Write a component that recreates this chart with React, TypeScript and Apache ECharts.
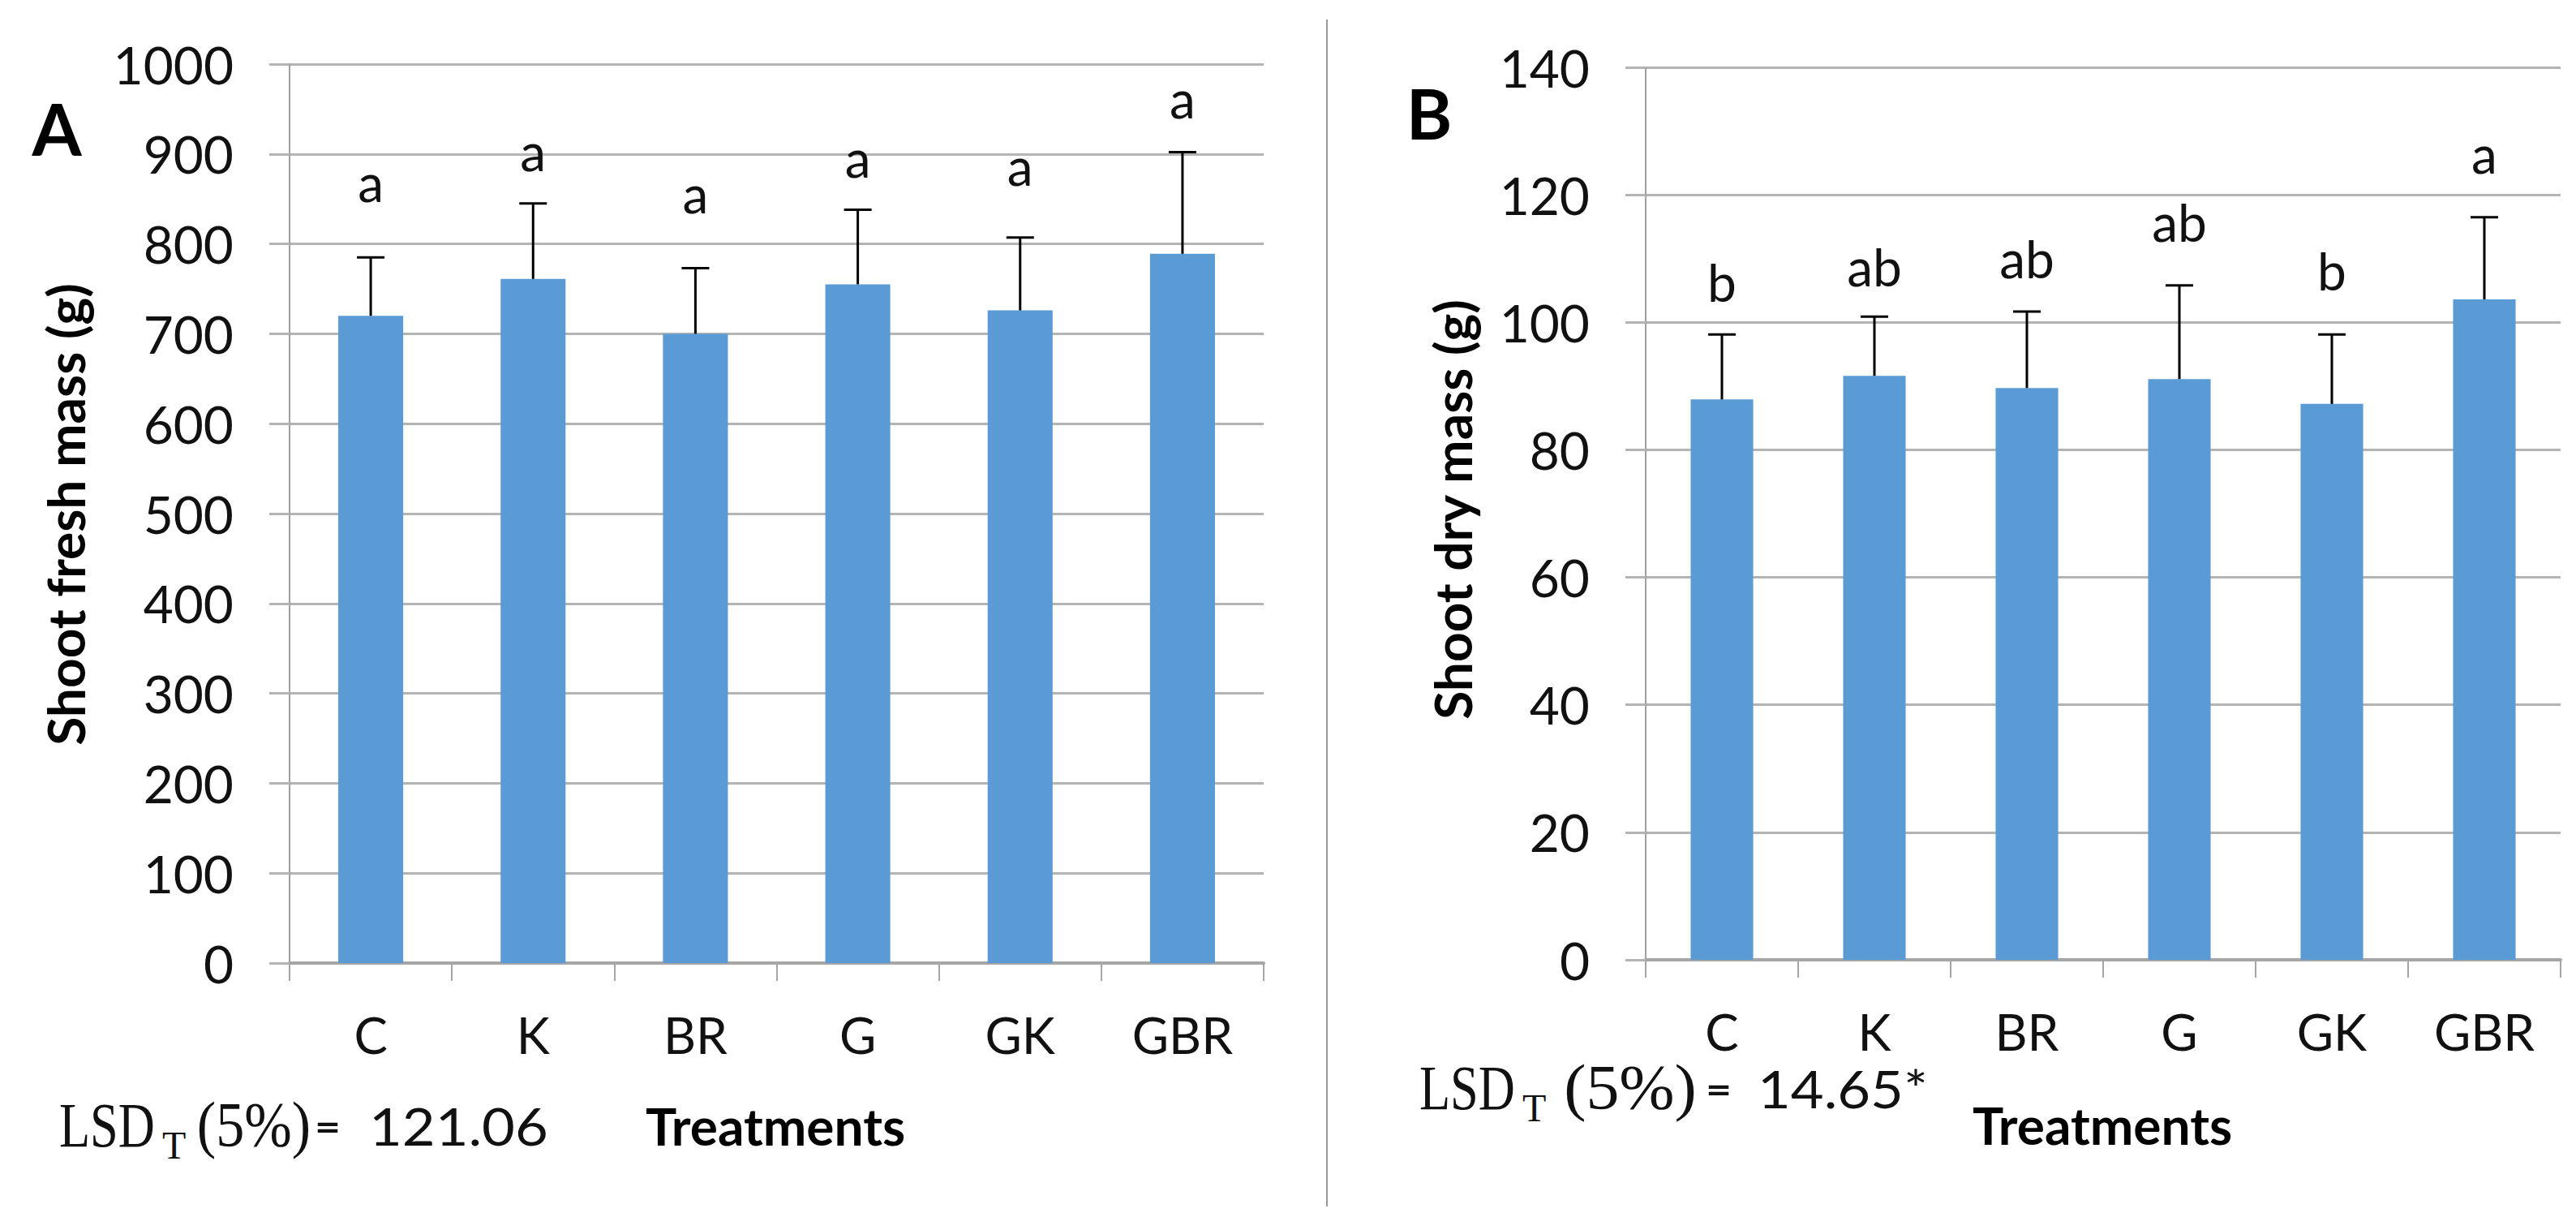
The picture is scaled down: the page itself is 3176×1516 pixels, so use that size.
import React, { useEffect, useRef } from "react";
import * as echarts from "echarts";

// ---------- data ----------
const categories = ["C", "K", "BR", "G", "GK", "GBR"];

const freshMean = [720, 761, 700, 755, 726, 789];
const freshErr = [65, 84, 73, 83, 81, 113];
const freshLetters = ["a", "a", "a", "a", "a", "a"];
const freshLetterPos = [869, 903, 856, 896, 887, 962];
const freshAxis = { min: 0, max: 1000, interval: 100 };

const dryMean = [87.9, 91.6, 89.7, 91.1, 87.2, 103.6];
const dryErr = [10.2, 9.3, 12.0, 14.7, 10.9, 12.9];
const dryLetters = ["b", "ab", "ab", "ab", "b", "a"];
const dryLetterPos = [106.3, 108.8, 110.0, 115.7, 108.1, 126.5];
const dryAxis = { min: 0, max: 140, interval: 20 };

const freshTitle = "Shoot fresh mass (g)";
const dryTitle = "Shoot dry mass (g)";
const xTitle = "Treatments";
const freshLsd = "121.06";
const dryLsd = "14.65*";

// ---------- style ----------
const SANS = "Lato";
const SERIF = '"Liberation Serif", serif';
const TEXT = "#111";
const BAR = "#5B9BD5";
const GRID = "#b4b4b4";

function yAxisCfg(gridIndex: number, a: { min: number; max: number; interval: number }) {
  return {
    type: "value",
    gridIndex,
    min: a.min,
    max: a.max,
    interval: a.interval,
    axisLine: { show: true, lineStyle: { color: "#a0a0a0", width: 2 } },
    axisTick: { show: true, length: 25, lineStyle: { color: GRID, width: 3 } },
    splitLine: { show: true, lineStyle: { color: GRID, width: 3 } },
    axisLabel: {
      margin: 69,
      fontFamily: SANS,
      fontSize: 64,
      color: TEXT,
      formatter: (v: number) => String(v),
    },
  };
}

function xAxisCfg(gridIndex: number) {
  return {
    type: "category",
    gridIndex,
    data: categories,
    boundaryGap: true,
    axisLine: { show: true, lineStyle: { color: "#a6a6a6", width: 4 } },
    axisTick: { show: true, length: 22, alignWithLabel: false, lineStyle: { color: "#a6a6a6", width: 2 } },
    axisLabel: { margin: 57, fontFamily: SANS, fontSize: 62, color: TEXT },
    splitLine: { show: false },
  };
}

function errSeries(idx: number, mean: number[], err: number[]) {
  return {
    type: "custom",
    xAxisIndex: idx,
    yAxisIndex: idx,
    z: 5,
    clip: false,
    data: mean.map((m, i) => [i, m, m + err[i]]),
    encode: { x: 0, y: [1, 2] },
    renderItem: (_p: any, api: any) => {
      const lo = api.coord([api.value(0), api.value(1)]);
      const hi = api.coord([api.value(0), api.value(2)]);
      const half = 17;
      return {
        type: "group",
        children: [
          { type: "line", shape: { x1: lo[0], y1: lo[1], x2: hi[0], y2: hi[1] }, style: { stroke: "#000", lineWidth: 3 } },
          { type: "line", shape: { x1: hi[0] - half, y1: hi[1], x2: hi[0] + half, y2: hi[1] }, style: { stroke: "#000", lineWidth: 3 } },
        ],
      };
    },
  };
}

function letterSeries(idx: number, pos: number[], letters: string[]) {
  return {
    type: "custom",
    xAxisIndex: idx,
    yAxisIndex: idx,
    z: 6,
    clip: false,
    data: pos.map((p, i) => [i, p]),
    encode: { x: 0, y: 1 },
    renderItem: (p: any, api: any) => {
      const c = api.coord([api.value(0), api.value(1)]);
      return {
        type: "text",
        x: c[0],
        y: c[1],
        style: {
          text: letters[p.dataIndex],
          fontFamily: SANS,
          fontSize: 64,
          fill: TEXT,
          align: "center",
          verticalAlign: "middle",
        },
      };
    },
  };
}

function txt(text: string, x: number, y: number, o: any = {}) {
  return {
    type: "text",
    x,
    y,
    rotation: o.rotation || 0,
    scaleX: o.scaleX || 1,
    style: {
      text,
      fontFamily: o.family || SANS,
      fontSize: o.size || 64,
      fontWeight: o.weight || "normal",
      fill: o.fill || TEXT,
      align: o.align || "left",
      verticalAlign: "middle",
    },
  };
}

function lsd(o: { x: number; base: number; tX: number; parenC: number; parenScale: number; eqX: number; numX: number; num: string }) {
  return [
    txt("LSD", o.x, o.base - 26, { family: SERIF, size: 78, scaleX: 0.8 }),
    txt("T", o.tX, o.base - 1, { family: SERIF, size: 48 }),
    txt("(5%)", o.parenC, o.base - 26, { family: SERIF, size: 78, scaleX: o.parenScale, align: "center" }),
    txt("=", o.eqX, o.base - 25, { size: 46, weight: "bold", scaleX: 1.2 }),
    txt(o.num, o.numX, o.base - 25, { size: 64, scaleX: 1.1 }),
  ];
}

function buildOption() {
  return {
    animation: false,
    backgroundColor: "#fff",
    grid: [
      { left: 357, top: 79, width: 1201, height: 1108 },
      { left: 2029, top: 83, width: 1128, height: 1100 },
    ],
    xAxis: [xAxisCfg(0), xAxisCfg(1)],
    yAxis: [yAxisCfg(0, freshAxis), yAxisCfg(1, dryAxis)],
    series: [
      { type: "bar", xAxisIndex: 0, yAxisIndex: 0, data: freshMean, barWidth: "40%", itemStyle: { color: BAR }, z: 3 },
      { type: "bar", xAxisIndex: 1, yAxisIndex: 1, data: dryMean, barWidth: "41%", itemStyle: { color: BAR }, z: 3 },
      errSeries(0, freshMean, freshErr),
      errSeries(1, dryMean, dryErr),
      letterSeries(0, freshLetterPos, freshLetters),
      letterSeries(1, dryLetterPos, dryLetters),
    ],
    graphic: [
      txt("A", 70, 158, { size: 88, weight: "bold", fill: "#000", align: "center" }),
      txt("B", 1762, 138, { size: 86, weight: "bold", fill: "#000", align: "center" }),
      txt(freshTitle, 80, 634, { weight: "bold", rotation: Math.PI / 2, align: "center", fill: "#000" }),
      txt(dryTitle, 1790, 628, { weight: "bold", rotation: Math.PI / 2, align: "center", fill: "#000" }),
      txt(xTitle, 956, 1387, { weight: "bold", align: "center", fill: "#000" }),
      txt(xTitle, 2592, 1386, { weight: "bold", align: "center", fill: "#000" }),
      ...lsd({ x: 73, base: 1412, tX: 200, parenC: 313, parenScale: 0.9, eqX: 388, numX: 455, num: freshLsd }),
      ...lsd({ x: 1750, base: 1366, tX: 1877, parenC: 2010, parenScale: 1.05, eqX: 2103, numX: 2167, num: dryLsd }),
      { type: "line", shape: { x1: 1636, y1: 24, x2: 1636, y2: 1487 }, style: { stroke: "#9a9a9a", lineWidth: 2 } },
    ],
  };
}

export default function App() {
  const ref = useRef<HTMLDivElement>(null);
  useEffect(() => {
    document.body.style.margin = "0";
    const chart = echarts.init(ref.current as HTMLDivElement, null, { renderer: "svg" });
    chart.setOption(buildOption() as any);
    return () => chart.dispose();
  }, []);
  return <div ref={ref} style={{ width: 3176, height: 1516, background: "#fff" }} />;
}
